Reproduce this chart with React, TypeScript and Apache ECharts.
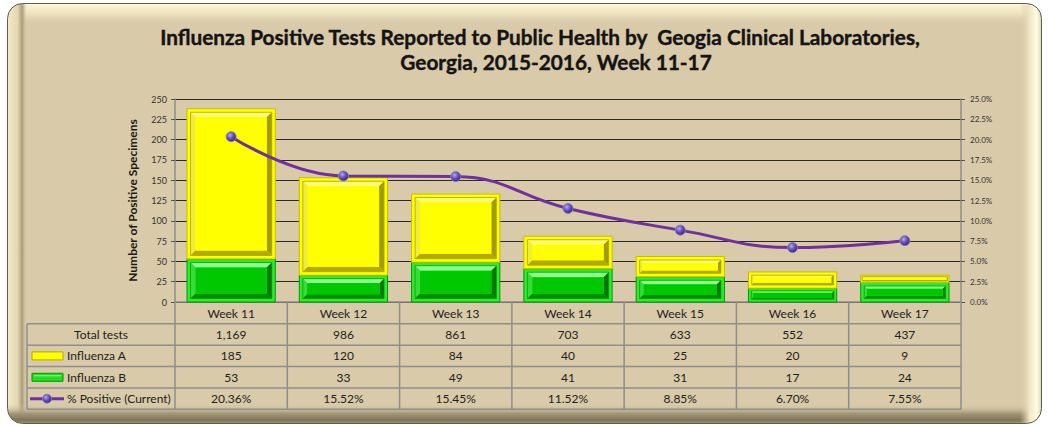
import React, { useEffect, useRef } from "react";
import * as echarts from "echarts";

const weeks = ["Week 11", "Week 12", "Week 13", "Week 14", "Week 15", "Week 16", "Week 17"];
const totalTests = [1169, 986, 861, 703, 633, 552, 437];
const fluA = [185, 120, 84, 40, 25, 20, 9];
const fluB = [53, 33, 49, 41, 31, 17, 24];
const pctPositive = [20.36, 15.52, 15.45, 11.52, 8.85, 6.7, 7.55];
const leftTicks = { min: 0, max: 250, interval: 25 };
const rightTicks = { min: 0, max: 25, interval: 2.5 };

const TITLE_1 = "Influenza Positive Tests Reported to Public Health by  Geogia Clinical Laboratories,";
const TITLE_2 = "Georgia, 2015-2016, Week 11-17";

const FONT = "Lato, 'Open Sans', sans-serif";
const BEIGE = "#d9caa9";

type Pal = {
  outline: string; rim: string; inner: string; top: string; left: string; right: string; bottom: string; face: string;
};
const YELLOW: Pal = {
  outline: "#c4be00", rim: "#ffff00", inner: "#aaa400", top: "#fafa78", left: "#eeee3a",
  right: "#a29c00", bottom: "#b2aa00", face: "#ffff00",
};
const GREEN: Pal = {
  outline: "#009a00", rim: "#30ea30", inner: "#00a000", top: "#90ff90", left: "#38dc38",
  right: "#007600", bottom: "#008c00", face: "#00c800",
};

function bevelRender(pal: Pal) {
  return (params: any, api: any) => {
    const idx = api.value(0);
    const lo = api.value(1);
    const hi = api.value(2);
    const p1 = api.coord([idx, hi]);
    const p0 = api.coord([idx, lo]);
    const bw = api.size([1, 0])[0] * 0.786;
    const x = p1[0] - bw / 2;
    const y = p1[1];
    const w = bw;
    const h = p0[1] - p1[1];
    const children: any[] = [
      { type: "rect", shape: { x, y, width: w, height: h }, style: { fill: pal.rim, stroke: pal.outline, lineWidth: 1 } },
    ];
    const rim = Math.min(3.5, h * 0.2);
    const ix = x + rim, iy = y + rim, iw = w - 2 * rim, ih = h - 2 * rim;
    if (ih > 4) {
      const t = Math.min(5, ih * 0.22);
      const fx = ix + t, fy = iy + t, fw = iw - 2 * t, fh = ih - 2 * t;
      children.push(
        { type: "polygon", shape: { points: [[ix, iy], [ix + iw, iy], [fx + fw, fy], [fx, fy]] }, style: { fill: pal.top } },
        { type: "polygon", shape: { points: [[ix, iy], [fx, fy], [fx, fy + fh], [ix, iy + ih]] }, style: { fill: pal.left } },
        { type: "polygon", shape: { points: [[ix + iw, iy], [ix + iw, iy + ih], [fx + fw, fy + fh], [fx + fw, fy]] }, style: { fill: pal.right } },
        { type: "polygon", shape: { points: [[ix, iy + ih], [fx, fy + fh], [fx + fw, fy + fh], [ix + iw, iy + ih]] }, style: { fill: pal.bottom } },
        { type: "rect", shape: { x: fx, y: fy, width: fw, height: fh }, style: { fill: pal.face } },
        { type: "rect", shape: { x: ix, y: iy, width: iw, height: ih }, style: { fill: "none", stroke: pal.inner, lineWidth: 0.8 } }
      );
    }
    return { type: "group", children };
  };
}

const sphere = () =>
  new echarts.graphic.RadialGradient(0.38, 0.35, 0.65, [
    { offset: 0, color: "#b4acf2" },
    { offset: 0.5, color: "#6c52c4" },
    { offset: 1, color: "#3e2384" },
  ]);

const titleStyle = {
  fontSize: 20.8, fontWeight: "bold", fontFamily: FONT, color: "#141414",
  textBorderColor: "#141414", textBorderWidth: 0.4,
};

export default function App() {
  const ref = useRef<HTMLDivElement>(null);
  useEffect(() => {
    document.body.style.margin = "0";
    const chart = echarts.init(ref.current!, null, { renderer: "svg" });

    const gx0 = 175, gx1 = 961, cw = (gx1 - gx0) / 7, tl = 27;
    const rowY = [302, 323.7, 345.2, 366.6, 388, 409.3];
    const els: any[] = [];

    // frame
    els.push(
      { type: "rect", z: -20, shape: { x: 7.5, y: 3.5, width: 1034, height: 420, r: 15 }, style: { fill: BEIGE } },
      {
        type: "rect", z: -19, shape: { x: 8, y: 4, width: 1033, height: 22, r: [14, 14, 0, 0] },
        style: { fill: new echarts.graphic.LinearGradient(0, 0, 0, 1, [
          { offset: 0, color: "#fdf6d8" }, { offset: 0.45, color: "#ede2bf" }, { offset: 1, color: "rgba(217,202,169,0)" },
        ]) },
      },
      {
        type: "rect", z: -18, shape: { x: 8, y: 4, width: 19, height: 419, r: [14, 0, 0, 14] },
        style: { fill: new echarts.graphic.LinearGradient(0, 0, 1, 0, [
          { offset: 0, color: "#f2e8c6" }, { offset: 0.5, color: "#e4d7b3" }, { offset: 0.75, color: "#ab9c78" }, { offset: 1, color: "rgba(217,202,169,0)" },
        ]) },
      },
      {
        type: "rect", z: -17, shape: { x: 8, y: 404, width: 1033, height: 19, r: [0, 0, 14, 14] },
        style: { fill: new echarts.graphic.LinearGradient(0, 0, 0, 1, [
          { offset: 0, color: "rgba(217,202,169,0)" }, { offset: 0.5, color: "#a3977a" }, { offset: 0.85, color: "#7e7456" }, { offset: 1, color: "#9a9070" },
        ]) },
      },
      {
        type: "rect", z: -16, shape: { x: 1020, y: 4, width: 21, height: 419, r: [0, 14, 14, 0] },
        style: { fill: new echarts.graphic.LinearGradient(0, 0, 1, 0, [
          { offset: 0, color: "rgba(217,202,169,0)" }, { offset: 0.45, color: "#efe6c3" }, { offset: 0.8, color: "#fffbe4" }, { offset: 1, color: "#e2d9b8" },
        ]) },
      },
      { type: "rect", z: 50, shape: { x: 7.5, y: 3.5, width: 1034, height: 420, r: 15 }, style: { fill: "none", stroke: "#5c5c5c", lineWidth: 1 } }
    );

    // table lines
    const tableLine = { stroke: "#8e8e8e", lineWidth: 1.5 };
    for (let k = 0; k <= 7; k++) {
      const x = gx0 + k * cw;
      els.push({ type: "line", z: 10, shape: { x1: x, y1: rowY[0], x2: x, y2: rowY[5] }, style: tableLine });
    }
    els.push({ type: "line", z: 10, shape: { x1: tl, y1: rowY[1], x2: tl, y2: rowY[5] }, style: tableLine });
    for (let r = 1; r <= 5; r++) {
      els.push({ type: "line", z: 10, shape: { x1: tl, y1: rowY[r], x2: gx1, y2: rowY[r] }, style: tableLine });
    }

    const rows: string[][] = [
      totalTests.map((v) => v.toLocaleString("en-US")),
      fluA.map((v) => String(v)),
      fluB.map((v) => String(v)),
      pctPositive.map((v) => v.toFixed(2) + "%"),
    ];
    const textStyle = { fontSize: 12, fontFamily: FONT, fill: "#222" };
    rows.forEach((row, r) => {
      const cy = (rowY[r + 1] + rowY[r + 2]) / 2;
      row.forEach((t, i) => {
        els.push({
          type: "text", z: 11, x: gx0 + (i + 0.5) * cw, y: cy,
          style: { ...textStyle, text: t, align: "center", verticalAlign: "middle" },
        });
      });
    });
    const cyRow = (r: number) => (rowY[r + 1] + rowY[r + 2]) / 2;
    els.push({
      type: "text", z: 11, x: (tl + gx0) / 2, y: cyRow(0),
      style: { ...textStyle, text: "Total tests", align: "center", verticalAlign: "middle" },
    });
    const labels = ["Influenza A", "Influenza B", "% Positive (Current)"];
    labels.forEach((t, j) => {
      els.push({
        type: "text", z: 11, x: 67, y: cyRow(j + 1),
        style: { ...textStyle, text: t, align: "left", verticalAlign: "middle" },
      });
    });
    // legend keys
    els.push(
      { type: "rect", z: 11, shape: { x: 32, y: cyRow(1) - 4, width: 31, height: 8 }, style: { fill: "#ffff00", stroke: "#b0aa00", lineWidth: 1 } },
      { type: "rect", z: 11, shape: { x: 32, y: cyRow(2) - 4, width: 31, height: 8 }, style: { fill: "#22dd22", stroke: "#009900", lineWidth: 1 } },
      { type: "line", z: 12, shape: { x1: 34, y1: cyRow(2) - 1.5, x2: 61, y2: cyRow(2) - 1.5 }, style: { stroke: "#8cff8c", lineWidth: 1 } },
      { type: "line", z: 11, shape: { x1: 30, y1: cyRow(3), x2: 64, y2: cyRow(3) }, style: { stroke: "#7030a0", lineWidth: 3 } },
      { type: "circle", z: 12, shape: { cx: 47, cy: cyRow(3), r: 4.5 }, style: { fill: sphere(), stroke: "#7e86aa", lineWidth: 1 } }
    );

    chart.setOption({
      animation: false,
      backgroundColor: "transparent",
      textStyle: { fontFamily: FONT },
      title: [
        { text: TITLE_1, left: 535, top: 21, textAlign: "center", textStyle: titleStyle },
        { text: TITLE_2, left: 551, top: 46, textAlign: "center", textStyle: titleStyle },
      ],
      grid: { left: gx0, right: 1048 - gx1, top: 99, bottom: 427 - 302 },
      xAxis: {
        type: "category",
        data: weeks,
        boundaryGap: true,
        axisLine: { lineStyle: { color: "#8e8e8e", width: 1.5 } },
        axisTick: { show: false },
        axisLabel: { fontSize: 12, color: "#222", margin: 5, fontFamily: FONT },
      },
      yAxis: [
        {
          type: "value", ...leftTicks,
          name: "Number of Positive Specimens",
          nameLocation: "middle",
          nameGap: 37,
          nameTextStyle: { fontSize: 12, fontWeight: "bold", color: "#1a1a1a", fontFamily: FONT },
          axisLine: { show: true, lineStyle: { color: "#8e8e8e", width: 1.5 } },
          axisTick: { show: true, length: 4, lineStyle: { color: "#555" } },
          axisLabel: { fontSize: 9, color: "#333", margin: 8 },
          splitLine: { show: true, lineStyle: { color: "#2a2a2a", width: 1 } },
        },
        {
          type: "value", ...rightTicks,
          position: "right",
          axisLine: { show: true, lineStyle: { color: "#8e8e8e", width: 1.5 } },
          axisTick: { show: true, length: 4, lineStyle: { color: "#555" } },
          axisLabel: { fontSize: 8, color: "#333", margin: 9, formatter: (v: number) => v.toFixed(1) + "%" },
          splitLine: { show: false },
        },
      ],
      series: [
        {
          name: "Influenza B", type: "custom", z: 2,
          renderItem: bevelRender(GREEN),
          encode: { x: 0, y: [1, 2] },
          data: fluB.map((v, i) => [i, 0, v]),
        },
        {
          name: "Influenza A", type: "custom", z: 2,
          renderItem: bevelRender(YELLOW),
          encode: { x: 0, y: [1, 2] },
          data: fluA.map((v, i) => [i, fluB[i], fluB[i] + v]),
        },
        {
          name: "% Positive (Current)", type: "line", yAxisIndex: 1, z: 5,
          data: pctPositive,
          smooth: 0.45,
          symbol: "circle",
          symbolSize: 10,
          lineStyle: { color: "#7030a0", width: 3 },
          itemStyle: { color: sphere(), borderColor: "#7e86aa", borderWidth: 1 },
        },
      ],
      graphic: { elements: els },
    });
    return () => chart.dispose();
  }, []);
  return <div ref={ref} style={{ width: 1048, height: 427 }} />;
}
